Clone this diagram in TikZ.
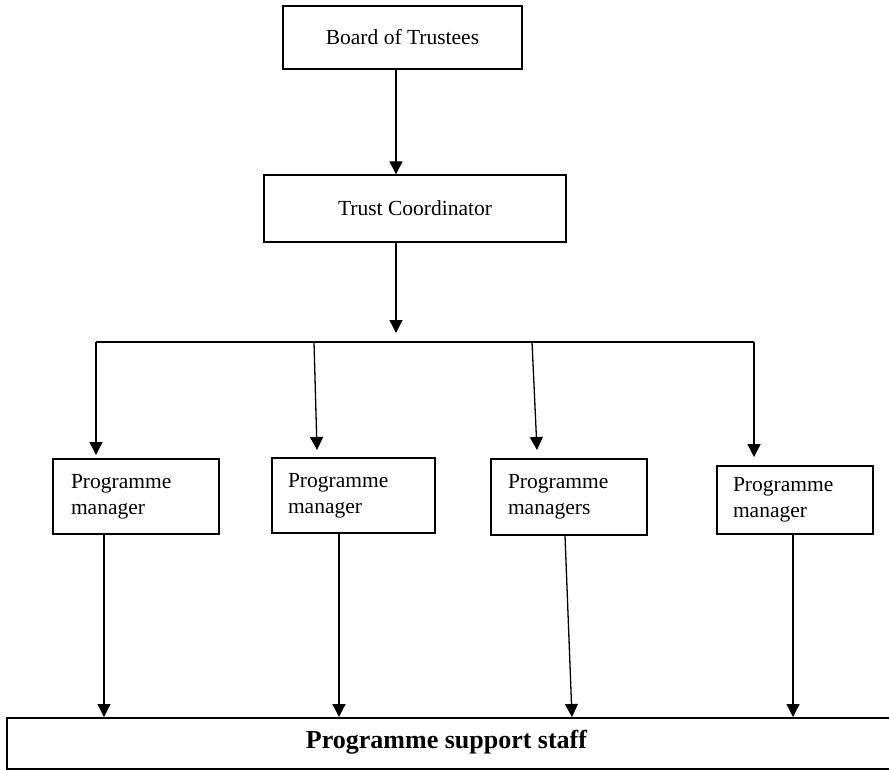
\documentclass[tikz,border=0pt]{standalone}
\usepackage{fontspec}
\setmainfont{Liberation Serif}
\usetikzlibrary{arrows.meta}
\begin{document}
\begin{tikzpicture}[x=1pt,y=-1pt,
  box/.style={draw,line width=1.4pt,inner ysep=0pt,font=\fontsize{21.5}{26}\selectfont},
  pmbox/.style={box,align=left},
  arr/.style={line width=1.3pt,-{Triangle[width=13pt,length=13pt]}},
  ln/.style={line width=1.3pt}]
\useasboundingbox (0,0) rectangle (889,770);
% top boxes
\node[box,minimum width=239pt,minimum height=63pt] (bot) at (402.5,37.5) {Board of Trustees};
\node[box,minimum width=302pt,minimum height=67pt] (tc) at (415,208.5) {Trust Coordinator};
% programme manager boxes
\node[pmbox,text width=130pt,inner xsep=18pt,minimum height=75pt] (pm1) at (136,496.5) {Programme\\manager};
\node[pmbox,text width=131pt,inner xsep=16pt,minimum height=75pt] (pm2) at (353.5,495.5) {Programme\\manager};
\node[pmbox,text width=122pt,inner xsep=17pt,minimum height=76pt] (pm3) at (569,497) {Programme\\managers};
\node[pmbox,text width=124pt,inner xsep=16pt,minimum height=68pt] (pm4) at (795,500) {Programme\\manager};
% bottom box
\node[draw,line width=1.4pt,minimum width=884pt,minimum height=51pt,inner sep=0pt] (ss) at (449,743.5) {};
\node[font=\fontsize{26}{30}\selectfont\bfseries] (sst) at (446.5,742) {Programme support staff};
% coordinates
\coordinate (hub) at (396,342);
\coordinate (b1) at (96,342);
\coordinate (b2) at (314,342);
\coordinate (b3) at (532,342);
\coordinate (b4) at (754,342);
\coordinate (t1) at (96,455);
\coordinate (t2) at (317,450);
\coordinate (t3) at (537,450);
\coordinate (t4) at (754,457);
\coordinate (e1) at (104,717);
\coordinate (e2) at (339,717);
\coordinate (e3) at (572,717);
\coordinate (e4) at (793,717);
% connectors
\draw[arr] ([xshift=-6.5pt]bot.south) -- ([xshift=-19pt]tc.north);
\draw[arr] ([xshift=-19pt]tc.south) -- ([yshift=9pt]hub);
\draw[ln] (b1) -- (b4);
\draw[arr] (b1) -- (t1);
\draw[arr] (b2) -- (t2);
\draw[arr] (b3) -- (t3);
\draw[arr] (b4) -- (t4);
\draw[arr] ([xshift=-32pt]pm1.south) -- (e1);
\draw[arr] ([xshift=-14.5pt]pm2.south) -- (e2);
\draw[arr] ([xshift=-4pt]pm3.south) -- (e3);
\draw[arr] ([xshift=-2pt]pm4.south) -- (e4);
\end{tikzpicture}
\end{document}
